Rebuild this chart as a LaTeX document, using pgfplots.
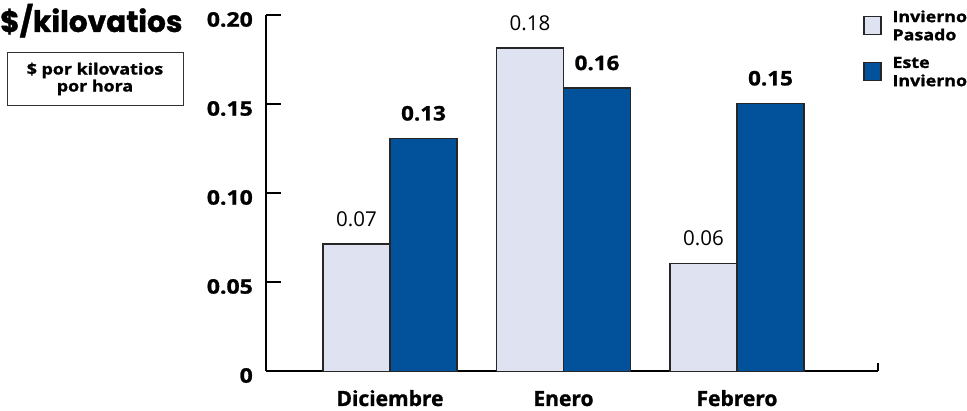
\documentclass[border=0pt]{standalone}
\usepackage{fontspec}
\setmainfont{Open Sans}[BoldFeatures={FakeBold=1.2}]
\newfontfamily\widefont{Open Sans}[FakeStretch=1.15, BoldFeatures={FakeBold=1.2}]
\newfontfamily\valfont{Open Sans}[FakeStretch=1.12, BoldFeatures={FakeBold=1.2}]
\newfontfamily\titlefont{Poppins}[BoldFeatures={FakeBold=1.2}]
\usepackage{pgfplots}
\pgfplotsset{compat=1.18}
\definecolor{lightbar}{HTML}{DFE2F1}
\definecolor{darkbar}{HTML}{02519B}
\begin{document}
\begin{tikzpicture}[x=1pt,y=1pt]
\path[use as bounding box] (0,0) rectangle (967,411);
\node[anchor=base west, inner sep=0] at (0,379) {\titlefont\bfseries\fontsize{29.6}{31}\selectfont \$/kilovatios};
\draw[line width=1pt, black!80] (7,305) rectangle (183,358);
\node[align=center, inner sep=0, font=\widefont\bfseries\fontsize{15.5}{17}\selectfont] at (95,332) {\$ por kilovatios\\por hora};
\begin{axis}[
  at={(266pt,39.5pt)}, anchor=south west, scale only axis,
  width=612pt, height=356pt,
  xmin=-0.7147, xmax=2.8127, ymin=0, ymax=0.2,
  axis x line*=bottom, axis y line*=left,
  axis line style={line width=2pt, black},
  clip=false,
  ybar=0pt, bar width=67pt,
  xtick={0,1,2}, xticklabels={Diciembre,Enero,Febrero},
  xtick style={draw=none},
  xticklabel style={font=\bfseries\fontsize{21}{21}\selectfont, anchor=base, inner sep=0pt, yshift=-19.5pt},
  ytick={0,0.05,0.1,0.15,0.2}, yticklabels={0,0.05,0.10,0.15,0.20},
  ytick align=inside, major tick length=15pt,
  ytick style={line width=2pt, black},
  yticklabel style={font=\widefont\bfseries\fontsize{20}{20}\selectfont, anchor=east, inner sep=0pt, xshift=-13pt, yshift=-4pt},
  legend style={at={(rel axis cs:0.9755,1.0144)}, anchor=north west, draw=none, fill=none,
    inner sep=0pt, outer sep=0pt, row sep=21pt,
    font=\widefont\bfseries\fontsize{15.5}{16.5}\selectfont,
    nodes={inner sep=0pt},
    /tikz/every odd column/.append style={column sep=11pt}},
  legend cell align=left,
  legend image code/.code={\draw[#1, line width=1.5pt] (0pt,-13pt) rectangle (17pt,5pt);},
  nodes near coords={\pgfmathprintnumber[fixed,fixed zerofill,precision=2,assume math mode=true]{\pgfplotspointmeta}},
  every node near coord/.append style={anchor=south, inner sep=0pt, yshift=17pt, text=black},
]
\addplot[fill=lightbar, draw=black!85, line width=1.2pt,
  every node near coord/.append style={font=\fontsize{20.5}{20.5}\selectfont}]
  coordinates {(0,0.0716) (1,0.1817) (2,0.0608)};
\addlegendentry{\begin{tabular}[c]{@{}l@{}}Invierno\\[1.5pt]Pasado\end{tabular}}
\addplot[fill=darkbar, draw=black!85, line width=1.2pt,
  every node near coord/.append style={font=\valfont\bfseries\fontsize{20}{20}\selectfont}]
  coordinates {(0,0.131) (1,0.1593) (2,0.1507)};
\addlegendentry{\begin{tabular}[c]{@{}l@{}}Este\\[1.5pt]Invierno\end{tabular}}
\draw[line width=2pt] (rel axis cs:1,0) -- (rel axis cs:1,0.025);
\end{axis}
\end{tikzpicture}
\end{document}
